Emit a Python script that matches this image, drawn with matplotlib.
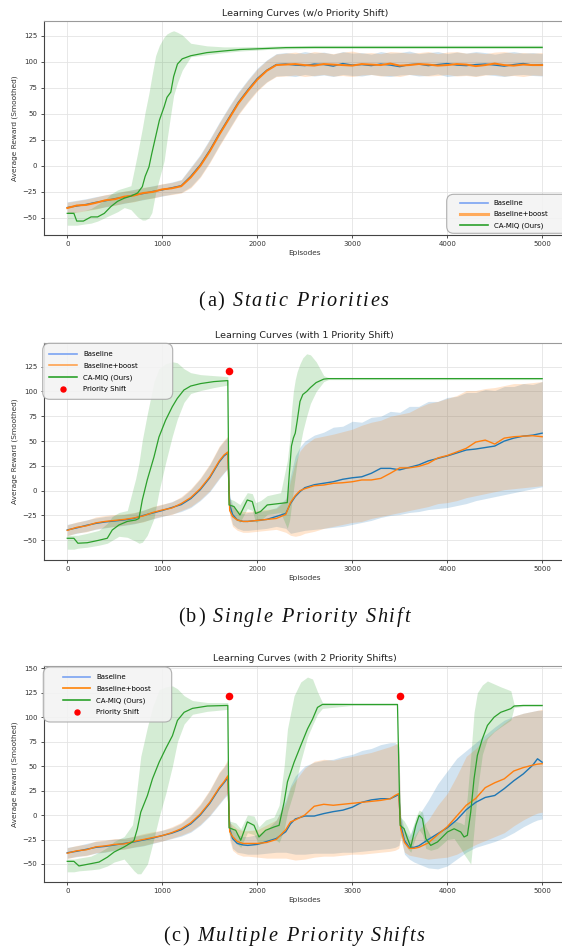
import matplotlib
matplotlib.use('Agg')
import matplotlib.pyplot as plt
from matplotlib.lines import Line2D
from matplotlib.patches import FancyBboxPatch
from matplotlib.transforms import IdentityTransform

# ---------------- panel (a): static priorities ----------------
A_EP = [0, 100, 200, 300, 400, 500, 600, 700, 800, 900, 1000, 1100, 1200,
        1300, 1400, 1500, 1600, 1700, 1800, 1900, 2000, 2100, 2200,
        2300, 2400, 2500, 2600, 2700, 2800, 2900, 3000, 3100, 3200, 3300, 3400,
        3500, 3600, 3700, 3800, 3900, 4000, 4100, 4200, 4300, 4400, 4500, 4600,
        4700, 4800, 4900, 4999]
A_BASE = [-40, -38.5, -37, -35, -33.5, -31.5, -30, -28, -26.5, -24.5, -23, -21, -19,
          -10, 1, 15, 31, 46, 61, 73, 84, 92, 97.5,
          98, 97, 96.5, 98, 97.5, 96, 98.5, 97, 97.5, 96.5, 98, 97, 95.5, 97.5,
          98, 96.5, 97.5, 98.5, 97, 96.5, 97.5, 98, 97, 96, 97.5, 98.5, 97, 97.5]
A_BASE_LO = [-45.5, -44, -42.5, -41, -39.5, -37.5, -36, -34, -32.5, -30.5, -29, -27, -25.5,
             -20, -10, 4, 20, 35, 50, 62, 73, 81, 86.5,
             87, 86, 88, 86.5, 87.5, 86, 88, 87, 86.5, 88, 87, 86, 87.5, 88,
             86.5, 87, 88.5, 86, 87, 87.5, 86.5, 88, 87, 86, 87.5, 88, 87, 86.5]
A_BASE_HI = [-34.5, -33, -31.5, -29.5, -28, -26, -24.5, -22.5, -21, -19, -17.5, -15.5, -13,
             -1, 11, 26, 42, 57, 71, 83, 94, 102, 108,
             109, 108, 110, 108.5, 109.5, 107.5, 110, 108.5, 109, 107.5, 110, 108.5, 109, 110.5,
             108, 109, 110, 108, 109.5, 108.5, 110, 109, 107.5, 109, 110, 108.5, 109, 108]
A_BOOST = [-40.5, -38, -37.5, -35.5, -33, -32, -29.5, -28.5, -26, -25, -22.5, -21.5, -19.5,
           -11, 0, 14, 30, 45, 60, 72, 83, 91.5, 97,
           97.5, 98, 97, 96.5, 98, 97.5, 97, 96.5, 98, 97.5, 97, 98.5, 96.5, 97,
           98, 97.5, 96.5, 97, 98, 97.5, 96, 97, 98.5, 97, 96.5, 97.5, 97, 97]
A_BOOST_LO = [-46, -44.5, -43, -41.5, -39, -38, -35.5, -34.5, -32, -31, -28.5, -27.5, -26,
              -21, -11, 3, 19, 34, 49, 61, 72, 80.5, 86,
              86.5, 87.5, 86, 87, 88, 86.5, 87, 86, 87.5, 88, 86.5, 87, 86, 88,
              87.5, 86.5, 87, 88, 86.5, 87, 86, 87.5, 88, 86.5, 87, 86, 87.5, 87]
A_BOOST_HI = [-35, -33.5, -32, -30, -27.5, -26.5, -24, -23, -20.5, -19.5, -17, -16, -13.5,
              -2, 10, 25, 41, 56, 70, 82, 93, 101.5, 107.5,
              108.5, 109.5, 108, 110, 109, 108, 109.5, 110.5, 108.5, 109, 108, 110, 109.5, 108.5,
              109, 110, 108, 109.5, 110, 108.5, 109, 108, 109.5, 110, 108.5, 109, 108.5, 109]
A_CM_EP = [0, 70, 100, 170, 250, 320, 390, 460, 530, 600, 670, 740, 790, 820, 860, 890,
           930, 970, 1020, 1050, 1090, 1120, 1160, 1210, 1300, 1470, 1650, 1820, 2100,
           2300, 2600, 3000, 3500, 4000, 4500, 4999]
A_CM = [-45.6, -45.6, -53, -53, -49, -49, -45.6, -39, -34, -31, -29, -26, -20, -10, -1, 12,
        28, 44, 57, 66, 71, 86, 98, 103, 106, 109, 110.6, 112, 113,
        113.8, 114, 114, 114, 114, 114, 114]
A_CM_LO = [-57, -57, -57, -56, -55, -53, -50, -47, -44, -40, -42, -49, -52, -52, -50, -45,
           -26, -12, 5, 25, 50, 68, 80, 92, 105, 107, 109, 110.5, 112,
           112.5, 113, 113, 113, 113, 113, 113]
A_CM_HI = [-44, -44, -44, -43, -41, -37, -33, -27, -23, -21, -19, 12, 36, 52, 70, 86,
           106, 116, 124, 127, 129, 130, 128.5, 126, 118, 115.5, 114.5, 114.5, 115,
           115.5, 116, 116, 116, 116, 116, 116]

# ---------------- panel (b): one priority shift ----------------
B_EP = [0, 100, 200, 300, 400, 500, 600, 700, 800, 900, 1000, 1100, 1200, 1300, 1400, 1500, 1600,
        1650, 1690, 1710, 1740, 1790, 1850, 1900, 2000, 2100, 2200, 2300, 2350, 2400, 2450,
        2500, 2600, 2700, 2800, 2900, 3000, 3100, 3200, 3300, 3400, 3500, 3600, 3700, 3800,
        3900, 4000, 4100, 4200, 4300, 4400, 4500, 4600, 4700, 4800, 4900, 4999]
B_BASE = [-39.6, -37.5, -35, -33, -31.5, -30.5, -29.5, -28, -25, -22.5, -20, -17, -14, -8, 1, 13, 29,
          35, 38, -14, -24, -29.5, -31, -31, -30, -29, -26, -23, -13, -6, -1,
          3, 6, 7.5, 9, 11.5, 13, 14, 17.5, 22.5, 22.5, 21, 23.5, 26, 30,
          32.5, 35, 38, 41, 42, 43.5, 45, 50, 53, 55, 56, 58]
B_BASE_LO = [-45, -43, -41, -39, -37.5, -36, -35, -33.5, -31, -28.5, -26, -23.5, -21, -17, -10, -1, 12,
             18, 22, -22, -34, -38, -40, -40, -39, -38, -36, -38, -43, -42, -41,
             -40, -39, -38, -37, -36, -34, -32, -30, -27, -25, -24, -22, -21, -19,
             -18, -17, -15, -13, -10, -8, -6, -4, -2, 0, 2, 4]
B_BASE_HI = [-34, -32, -29.5, -27.5, -26, -25, -24, -22.5, -19.5, -16.5, -14, -11, -7, 1, 12, 26, 44,
             50, 54, -6, -14, -22, -23, -22, -21, -20, -17, -8, 15, 35, 44,
             50, 56, 59, 64, 65, 70, 69, 74, 75, 80, 79, 85, 85, 90,
             90, 94, 95, 99, 99, 102, 101, 105, 105, 108, 107, 110]
B_BOOST = [-40, -37, -35.5, -32.5, -31, -30, -29, -27.5, -25.5, -22, -19.5, -17.5, -13, -7, 2, 14, 30,
           36, 39, -20, -26, -29.6, -31, -31, -30, -29, -28, -24, -12, -5, 0,
           2, 5, 5.7, 7.4, 8, 9, 10.8, 10.8, 12.4, 17.5, 23, 23, 24.5, 27.5,
           33, 35.5, 39, 42.7, 49, 51, 47, 53, 54.4, 55, 55.4, 54.4]
B_BOOST_LO = [-45.5, -42.5, -41.5, -38.5, -37, -36, -34.5, -33, -31.5, -28, -25.5, -24, -20, -16, -9, 0, 13,
              18.5, 23, -26, -36, -40, -42, -42, -41, -40, -39, -42, -45, -46, -45,
              -43, -41, -38, -36, -34, -32, -31, -28, -26, -24, -22, -20, -18, -16,
              -13, -12, -10, -7, -5, -3, -1, 1, 2, 3, 4, 5]
B_BOOST_HI = [-34.5, -31.5, -30, -26.5, -25, -24, -23.5, -22, -20, -16, -13.5, -11.5, -6, 2, 13, 27, 45,
              51, 55, -10, -16, -20, -21, -21, -20, -19, -18, -10, 10, 28, 40,
              46, 53, 55, 57, 59.5, 62, 66, 69, 71, 75, 77, 79, 84, 88,
              90, 93, 96, 101, 101, 103, 104, 106, 108, 108, 109, 110]
B_CM_EP = [0, 70, 112, 210, 333, 421, 474, 544, 632, 720, 755, 790, 842, 913, 965, 1035, 1106,
           1158, 1228, 1299, 1404, 1545, 1690, 1703, 1755, 1818, 1895, 1948, 1983, 2035, 2105,
           2246, 2316, 2340, 2360, 2380, 2400, 2420, 2450, 2480, 2520, 2560, 2620, 2700, 2750,
           3000, 3500, 4000, 4500, 4999]
B_CM = [-48, -48, -53, -52.5, -50, -48, -39.6, -34.6, -31, -29.6, -28, -9.4, 10.8, 34, 54, 71, 84.7,
        93, 101.5, 105.5, 108, 110, 111, -14.4, -16, -24.5, -9.4, -11, -23, -21, -14.4,
        -12.8, -12, 20, 45, 53, 58, 70, 90, 97, 100, 104, 109, 112.5, 113,
        113, 113, 113, 113, 113]
B_CM_LO = [-59, -59, -58, -57, -55, -53, -50, -46, -47, -51, -53, -52, -45, -28, -1, 28, 55,
           72, 89, 98, 101, 104, 106.5, -20, -28, -32, -18, -20, -32, -30, -24,
           -22, -38, -30, -15, 0, 15, 30, 45, 60, 75, 88, 100, 110, 112,
           112, 112, 112, 112, 112]
B_CM_HI = [-45, -45, -45, -43, -40, -33, -26, -22, -20, 12, 28, 51, 77, 110, 123, 128, 130,
           129, 123, 119, 117, 116, 115, -8, -10, -14, -2, -3, -12, -10, -5,
           -2, 30, 50, 80, 100, 112, 120, 128, 134, 138, 137, 130, 116, 114,
           114, 114, 114, 114, 114]
B_SHIFT_EP = [1700]
B_SHIFT_Y = [121]

# ---------------- panel (c): two priority shifts ----------------
C_EP = [0, 100, 200, 300, 400, 500, 600, 700, 800, 900, 1000, 1100, 1200, 1300, 1400, 1500, 1600,
        1650, 1690, 1710, 1740, 1790, 1850, 1900, 2000, 2100, 2200, 2300, 2350, 2400,
        2500, 2600, 2700, 2800, 2900, 3000, 3100, 3200, 3300, 3400, 3450, 3490,
        3510, 3550, 3600, 3650, 3700, 3800, 3900, 4000, 4100, 4200, 4300, 4400, 4500,
        4600, 4700, 4800, 4900, 4950, 4999]
C_BASE = [-38.5, -37, -35, -33, -32, -30.5, -29, -27.5, -25.5, -23.5, -21, -18.5, -15, -9, 0, 12, 27,
          33, 38, -14, -24, -29, -30.5, -31, -30, -27, -24, -17, -9, -4,
          -1, -1, 1.5, 3.5, 5, 8, 13, 15.5, 16.7, 16.7, 19, 21,
          -10, -26, -33, -33, -31.5, -25, -19, -13, -5, 5.5, 13, 18, 20,
          27, 35, 42, 51, 57.5, 54]
C_BASE_LO = [-44, -42.5, -41, -39, -38, -36, -34.5, -33, -31.5, -29, -26.5, -24, -21.5, -17.5, -10.5, -1, 11,
             17, 21, -22, -34, -38, -39, -40, -40, -39, -38, -38, -39, -40,
             -40, -39, -39, -39, -38, -38, -37, -36, -35, -34, -33, -31,
             -22, -40, -45, -48, -50, -54, -55, -52, -45, -38, -33, -30, -27,
             -23, -18, -12, -7, -5, -4]
C_BASE_HI = [-33, -31.5, -29, -27, -26, -24.5, -23.5, -22, -20, -18, -15.5, -13, -8.5, -0.5, 10.5, 25, 43,
             49, 55, -6, -14, -20, -22, -22, -20, -15, -5, 15, 30, 40,
             50, 54, 56, 57, 60, 62, 66, 68, 72, 74, 74, 70,
             0, -15, -22, -10, 0, 15, 32, 45, 58, 66, 74, 82, 90,
             97, 101, 104, 106, 107, 107]
C_BOOST = [-39, -36.5, -35.5, -32.5, -31.5, -30, -29.5, -27, -25, -23, -21, -18, -14, -8, 1, 13, 28,
           34, 40, -17, -22, -27, -29, -29, -29, -28, -25, -15, -7, -5,
           0, 9, 11, 10, 11, 12, 13, 14, 15, 16.7, 20, 22,
           -14, -28, -34, -34, -33, -28.5, -20, -12, -1, 10, 17, 28, 33,
           37, 45, 48.5, 51, 52, 52.5]
C_BOOST_LO = [-44.5, -42, -41.5, -38.5, -37.5, -35.5, -35, -32.5, -31, -28.5, -26.5, -23.5, -20.5, -16.5, -9.5, 0, 12,
              18, 23, -26, -36, -40, -42, -42, -43, -44, -44, -44, -45, -46,
              -45, -43, -42, -42, -41, -40, -40, -39, -38, -37, -36, -34,
              -24, -38, -41, -42, -43, -45, -44, -43, -40, -35, -30, -26, -22,
              -18, -11, -5, 0, 2, 3]
C_BOOST_HI = [-33.5, -31, -30, -26.5, -25.5, -24, -24, -21.5, -19, -17, -15.5, -12, -7.5, 0.5, 11.5, 26, 44,
              50, 57, -8, -10, -14, -16, -16, -15, -10, -5, 12, 28, 35,
              48, 55, 57, 56, 58, 60, 62, 64, 67, 70, 72, 74,
              -4, -18, -26, -22, -15, -5, 10, 22, 40, 60, 68, 78, 86,
              94, 101, 104, 106, 107, 108]
C_CM_EP = [0, 70, 123, 247, 335, 423, 493, 598, 686, 703, 738, 774, 844, 897, 967, 1037, 1107,
           1160, 1230, 1318, 1474, 1690, 1703, 1773, 1826, 1896, 1966, 2018, 2088, 2176, 2230,
           2283, 2318, 2388, 2458, 2529, 2582, 2634, 2686, 3000, 3476, 3504, 3546, 3581, 3616,
           3669, 3704, 3739, 3774, 3826, 3897, 4002, 4072, 4142, 4177, 4212, 4247, 4282, 4317,
           4370, 4423, 4493, 4563, 4669, 4704, 4800, 4999]
C_CM = [-47.3, -47.3, -52, -49.7, -48, -43, -37.8, -32.6, -27.5, -25.8, -14, 3, 20, 37, 54, 68, 81,
        96.7, 105, 109, 111.4, 112, -13, -15.6, -25.8, -7, -10.5, -22.4, -15.6, -12.2, -10.5,
        13.3, 34, 54, 71, 88, 98, 110, 113, 113, 113, -10.5, -14, -24, -32.6,
        -10.5, -0.3, -3.7, -24, -31, -27.5, -17.3, -14, -17.3, -22.4, -20.7, 3, 37, 61,
        78, 91.6, 100, 105, 108.7, 111.4, 112, 112]
C_CM_LO = [-58, -58, -57, -56, -55, -52, -48, -45, -55, -57, -60, -60, -50, -30, -2, 22, 50,
           75, 93, 103, 106, 108, -20, -28, -33, -18, -20, -30, -28, -24, -28,
           -15, 3, 25, 55, 80, 92, 103, 109, 112, 112, -20, -28, -34, -38,
           -22, -15, -20, -34, -36, -34, -25, -24, -34, -40, -45, -50, -15, 25,
           62, 78, 85, 90, 97, 110, 111, 111]
C_CM_HI = [-45, -45, -44, -42, -38, -33, -27, -22, -10, 0, 30, 60, 90, 110, 128, 131, 132,
           129, 122, 117, 115, 115, -6, -8, -14, 0, -1, -12, -5, -2, 10,
           50, 88, 122, 136, 141, 139, 126, 115, 114, 114, -2, -6, -12, -20,
           -2, 5, 3, -12, -22, -20, -10, -6, -8, -10, 20, 60, 105, 125,
           133, 137, 134, 131, 127, 113, 112.5, 112.5]
C_SHIFT_EP = [1700, 3500]
C_SHIFT_Y = [122, 122]

X_TICKS = [0, 1000, 2000, 3000, 4000, 5000]

W, H = 562, 952
fig = plt.figure(figsize=(W / 100, H / 100), dpi=100)

BLUE = '#1f77b4'
ORANGE = '#ff7f0e'
GREEN = '#2ca02c'


def make_axes(top, bottom, title, ylim, yticks):
    ax = fig.add_axes([43.5 / W, 1 - bottom / H, 522.5 / W, (bottom - top) / H])
    ax.set_xlim(-250, 5250)
    ax.set_ylim(*ylim)
    ax.set_xticks(X_TICKS)
    ax.set_yticks(yticks)
    ax.grid(True, color='#e4e4e4', lw=0.6)
    ax.set_axisbelow(True)
    ax.tick_params(labelsize=5, length=2.5, width=0.6, pad=2, colors='#333333')
    for s in ['left', 'bottom']:
        ax.spines[s].set_color('#444444')
        ax.spines[s].set_linewidth(0.8)
    ax.spines['top'].set_color('#9a9a9a')
    ax.spines['top'].set_linewidth(0.8)
    ax.set_title(title, fontsize=6.8, pad=3.5, color='#222222')
    ax.set_xlabel('Episodes', fontsize=5.3, labelpad=2, color='#333333')
    ax.set_ylabel('Average Reward (Smoothed)', fontsize=5.3, labelpad=3, color='#333333')
    return ax


def curves(ax, ep, base, base_lo, base_hi, boost, boost_lo, boost_hi,
           cm_ep, cm, cm_lo, cm_hi, boost_lw=1.0):
    ax.fill_between(ep, base_lo, base_hi, color=BLUE, alpha=0.2, lw=0)
    ax.plot(ep, base, color=BLUE, lw=1.0)
    ax.fill_between(ep, boost_lo, boost_hi, color=ORANGE, alpha=0.2, lw=0)
    ax.plot(ep, boost, color=ORANGE, lw=boost_lw)
    ax.fill_between(cm_ep, cm_lo, cm_hi, color=GREEN, alpha=0.2, lw=0)
    ax.plot(cm_ep, cm, color=GREEN, lw=0.9)


def legend_box(x0, y0, x1, y1, hx, hy, handles, labels, spacing):
    box = FancyBboxPatch((x0, H - y1), x1 - x0, y1 - y0,
                         boxstyle='round,pad=0,rounding_size=7',
                         transform=IdentityTransform(), fc='#f3f3f3', ec='#a8a8a8',
                         lw=0.8, alpha=0.9, zorder=4)
    fig.add_artist(box)
    fig.legend(handles, labels, loc='upper left', bbox_to_anchor=(hx / W, 1 - hy / H),
               frameon=False, fontsize=5.0, borderpad=0, borderaxespad=0,
               handlelength=4.0, handletextpad=0.86, labelspacing=spacing)


def caption(cy, head, body, size=14.6, track=1.7):
    r = fig.canvas.get_renderer()
    chars = [(c, 'normal') for c in head] + [(c, 'italic') for c in body]
    ws = []
    for c, st in chars:
        if c == ' ':
            ws.append(size * 0.25 * 100 / 72)
            continue
        t = fig.text(0, 0, c, fontsize=size, family='Liberation Serif', style=st)
        ws.append(t.get_window_extent(r).width)
        t.remove()
    total = sum(ws) + track * (len(ws) - 1)
    x = 293.5 - total / 2
    for (c, st), w in zip(chars, ws):
        if c != ' ':
            fig.text(x / W, 1 - cy / H, c, fontsize=size, family='Liberation Serif',
                     style=st, va='baseline', color='#111111')
        x += w + track


labels3 = ['Baseline', 'Baseline+boost', 'CA-MIQ (Ours)']
labels4 = labels3 + ['Priority Shift']

# (a)
ax1 = make_axes(21, 235, 'Learning Curves (w/o Priority Shift)', (-66.4, 139.4),
                [-50, -25, 0, 25, 50, 75, 100, 125])
curves(ax1, A_EP, A_BASE, A_BASE_LO, A_BASE_HI, A_BOOST, A_BOOST_LO, A_BOOST_HI,
       A_CM_EP, A_CM, A_CM_LO, A_CM_HI, boost_lw=1.4)
h_a = [Line2D([], [], color='#7aa3f2', lw=1.2),
       Line2D([], [], color='#ffab5c', lw=2.2),
       Line2D([], [], color='#2ca02c', lw=1.2)]
legend_box(446.7, 194.3, 590, 233.3, 460, 200.4, h_a, labels3, 0.71)

# (b)
ax2 = make_axes(343.3, 560, 'Learning Curves (with 1 Priority Shift)', (-69.9, 148.6),
                [-50, -25, 0, 25, 50, 75, 100, 125])
curves(ax2, B_EP, B_BASE, B_BASE_LO, B_BASE_HI, B_BOOST, B_BOOST_LO, B_BOOST_HI,
       B_CM_EP, B_CM, B_CM_LO, B_CM_HI)
ax2.scatter(B_SHIFT_EP, B_SHIFT_Y, s=30, color='red', zorder=5, lw=0)
h_b = [Line2D([], [], color='#7aa3f2', lw=1.2),
       Line2D([], [], color='#ff9a40', lw=1.1),
       Line2D([], [], color='#1a9a1a', lw=1.1),
       Line2D([], [], color='red', marker='o', ls='none', ms=3.6)]
legend_box(42.7, 343.3, 172.7, 399.3, 49.3, 351.1, h_b, labels4, 0.79)

# (c)
ax3 = make_axes(666, 882, 'Learning Curves (with 2 Priority Shifts)', (-68.4, 152.3),
                [-50, -25, 0, 25, 50, 75, 100, 125, 150])
curves(ax3, C_EP, C_BASE, C_BASE_LO, C_BASE_HI, C_BOOST, C_BOOST_LO, C_BOOST_HI,
       C_CM_EP, C_CM, C_CM_LO, C_CM_HI)
ax3.scatter(C_SHIFT_EP, C_SHIFT_Y, s=30, color='red', zorder=5, lw=0)
h_c = [Line2D([], [], color='#7aa3f2', lw=1.2),
       Line2D([], [], color='#ff8c1a', lw=1.3),
       Line2D([], [], color='#1a9a1a', lw=1.1),
       Line2D([], [], color='red', marker='o', ls='none', ms=3.6)]
legend_box(43.3, 667, 171.7, 722, 62.7, 674.1, h_c, labels4, 0.79)

caption(306, '(a) ', 'Static Priorities')
caption(622, '(b) ', 'Single Priority Shift')
caption(941, '(c) ', 'Multiple Priority Shifts')

fig.savefig('out.png', dpi=100)
